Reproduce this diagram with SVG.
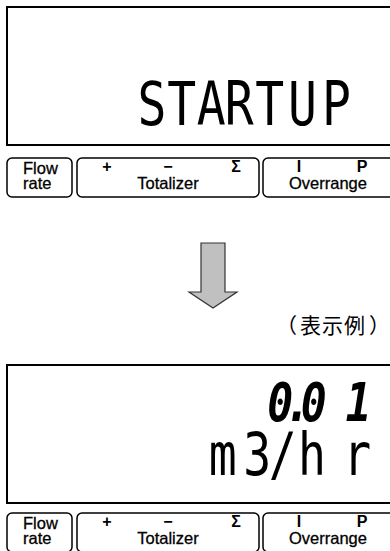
<svg xmlns="http://www.w3.org/2000/svg" width="390" height="551" viewBox="0 0 390 551">
<style>
.panel{fill:none;stroke:#000;stroke-width:2}
.key{fill:none;stroke:#000;stroke-width:1.5}
.lbl{font-family:"Liberation Sans",Arial,sans-serif;font-size:16.5px;fill:#000;stroke:#000;stroke-width:0.3}
.sym{font-family:"Liberation Sans",Arial,sans-serif;font-size:16px;font-weight:bold;fill:#000}
.seg{font-family:"DejaVu Sans Mono",monospace;fill:#000}
.note{font-family:"Noto Sans CJK JP","Noto Sans CJK SC",sans-serif;font-size:21px;fill:#000}
</style>
<defs>
<g id="keys">
<rect class="key" x="7" y="0" width="65" height="39" rx="5"/>
<rect class="key" x="77" y="0" width="182" height="39" rx="5"/>
<rect class="key" x="263" y="0" width="140" height="39" rx="5"/>
<text class="lbl" x="23" y="16">Flow</text>
<text class="lbl" x="23" y="31">rate</text>
<text class="sym" x="107" y="14" text-anchor="middle">+</text>
<text class="sym" x="168" y="14" text-anchor="middle">−</text>
<text class="sym" x="236" y="14" text-anchor="middle" font-weight="normal" font-size="13">Σ</text>
<text class="lbl" x="168" y="31" text-anchor="middle">Totalizer</text>
<text class="sym" x="299" y="14" text-anchor="middle" font-weight="normal">I</text>
<text class="sym" x="362" y="14" text-anchor="middle">P</text>
<text class="lbl" x="328" y="31" text-anchor="middle">Overrange</text>
</g>
</defs>
<g id="display-startup">
<rect class="panel" x="7" y="7" width="400" height="138"/>
<text class="seg" font-size="60" transform="scale(0.8,1)" x="172 209 246 281 319 360 402.5" y="125">STARTUP</text>
</g>
<g id="keys-top"><use href="#keys" y="158"/></g>
<g id="connectors">
<path d="M201,243 H225 V292 H237 L213,308 L189,292 H201 Z" fill="#c0c0c0" stroke="#333" stroke-width="1.2"/>
</g>
<g id="note"><text class="note" x="276 300 322 344 369" y="333">（表示例）</text></g>
<g id="display-flow">
<rect class="panel" x="7" y="365" width="400" height="138"/>
<text class="seg" font-size="54" font-weight="bold" font-style="italic" transform="scale(0.8,1)" x="334 356 376 432" y="421">0.01</text>
<text class="seg" font-size="58" transform="scale(0.8,1)" x="261 304 336 372.5 429" y="475">m3/hr</text>
</g>
<g id="keys-bottom"><use href="#keys" y="513"/></g>
</svg>
